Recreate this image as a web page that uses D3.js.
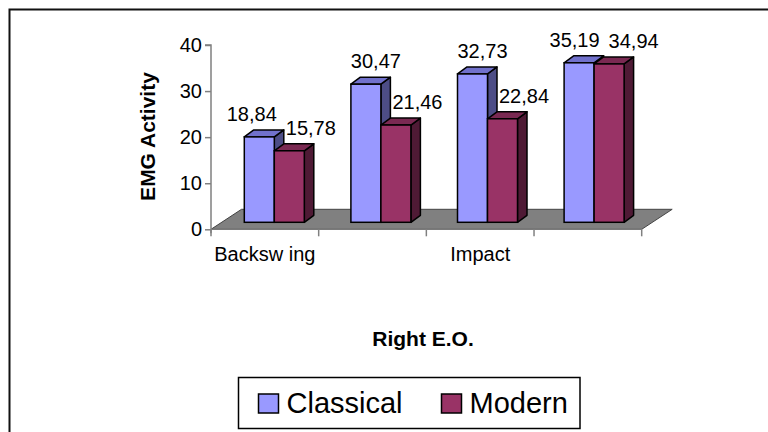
<!DOCTYPE html>
<html>
<head>
<meta charset="utf-8">
<script src="https://cdn.jsdelivr.net/npm/d3@7/dist/d3.min.js"></script>
<style>
  html, body { margin: 0; padding: 0; background: #fff; }
  svg { display: block; }
  text { font-family: "Liberation Sans", Arial, sans-serif; }
</style>
</head>
<body>
<svg id="chart" width="768" height="432"></svg>
<script>
// ---- data ----
const categories = ["Backsw ing", "", "Impact", ""];
const seriesNames = ["Classical", "Modern"];
const classical = [18.84, 30.47, 32.73, 35.19];
const modern = [15.78, 21.46, 22.84, 34.94];
const yTicks = [0, 10, 20, 30, 40];
const valueLabels = v => v.toFixed(2).replace(".", ",");

const series = [
  { name: seriesNames[0], values: classical, front: "#9999FF", top: "#7171CC", side: "#4D4D86" },
  { name: seriesNames[1], values: modern, front: "#993366", top: "#7A2952", side: "#4F1A35" }
];

const svg = d3.select("#chart");

// outer frame
svg.append("rect").attr("x", 9.5).attr("y", 9.5).attr("width", 820).attr("height", 500)
  .attr("fill", "#fff").attr("stroke", "#111").attr("stroke-width", 2);

// scales
const idx = categories.map((c, i) => i);
const x = d3.scaleBand().domain(idx).range([211, 641.7]).padding(0);
const y = d3.scaleLinear().domain([0, 40]).range([229.3, 45]);
// 3D projection offsets
const floorDx = 30.5, floorDy = -20;
const offDx = 10, offDy = -7;     // front face of bars sits inside the floor
const depDx = 9.5, depDy = -7;    // bar depth
const barBand = d3.scaleBand().domain(idx).range([211, 637.4]).padding(0);
const barY = d3.scaleLinear().domain([0, 40]).range([y(0) + offDy, y(40) + offDy + 3]);
const barW = 30;

// floor
const fx0 = x.range()[0], fx1 = x.range()[1], fy = y(0);
svg.append("path")
  .attr("d", `M${fx0},${fy}L${fx1},${fy}L${fx1 + floorDx},${fy + floorDy}L${fx0 + floorDx},${fy + floorDy}Z`)
  .attr("fill", "#808080").attr("stroke", "#444").attr("stroke-width", 1);

// y axis
const yAxis = d3.axisLeft(y).tickValues(yTicks).tickSize(6).tickPadding(3).tickFormat(d3.format("d"));
const gy = svg.append("g").attr("transform", "translate(211,0)").call(yAxis);
gy.select(".domain").attr("stroke", "#808080").attr("stroke-width", 1.5).attr("d", `M-6,${y(40)}H0V${y(0) + 4}`);
gy.selectAll(".tick line").attr("stroke", "#808080").attr("stroke-width", 1.5);
gy.selectAll(".tick text").attr("font-size", 20).attr("fill", "#000")
  .attr("font-family", "'Liberation Sans', Arial, sans-serif");

// x axis (category boundary ticks)
const gx = svg.append("g");
gx.append("line").attr("x1", fx0).attr("x2", fx1).attr("y1", fy).attr("y2", fy)
  .attr("stroke", "#808080").attr("stroke-width", 1);
gx.selectAll("line.tk").data(idx.concat([idx.length])).join("line").attr("class", "tk")
  .attr("x1", i => i < idx.length ? x(i) : fx1).attr("x2", i => i < idx.length ? x(i) : fx1)
  .attr("y1", fy).attr("y2", fy + 7)
  .attr("stroke", "#808080").attr("stroke-width", 1.5);
gx.selectAll("text").data(idx).join("text")
  .attr("x", i => x(i) + x.bandwidth() / 2).attr("y", 260.5)
  .attr("text-anchor", "middle").attr("font-size", 20).attr("fill", "#000")
  .text(i => categories[i]);

// bars
const bars = [];
idx.forEach(i => {
  series.forEach((s, si) => {
    const x0 = barBand(i) + (barBand.bandwidth() - barW * series.length) / 2 + offDx + si * barW;
    bars.push({ i, si, s, v: s.values[i], x0, x1: x0 + barW, yt: barY(s.values[i]), yb: barY(0) });
  });
});
const gb = svg.append("g");
bars.forEach(b => {
  const g = gb.append("g");
  g.append("path")
    .attr("d", `M${b.x1},${b.yt}L${b.x1 + depDx},${b.yt + depDy}L${b.x1 + depDx},${b.yb + depDy}L${b.x1},${b.yb}Z`)
    .attr("fill", b.s.side).attr("stroke", "#000").attr("stroke-width", 1.5).attr("stroke-linejoin", "round");
  g.append("path")
    .attr("d", `M${b.x0},${b.yt}L${b.x0 + depDx},${b.yt + depDy}L${b.x1 + depDx},${b.yt + depDy}L${b.x1},${b.yt}Z`)
    .attr("fill", b.s.top).attr("stroke", "#000").attr("stroke-width", 1.5).attr("stroke-linejoin", "round");
  g.append("rect").attr("x", b.x0).attr("y", b.yt).attr("width", barW).attr("height", b.yb - b.yt)
    .attr("fill", b.s.front).attr("stroke", "#000").attr("stroke-width", 1.5);
});

// data labels with simple collision avoidance
const gl = svg.append("g");
const labels = bars.map(b => {
  const t = gl.append("text").attr("text-anchor", "middle").attr("font-size", 20).attr("fill", "#000")
    .text(valueLabels(b.v));
  const w = t.node().getComputedTextLength();
  return { b, t, w, cx: (b.x0 + b.x1) / 2 + 10, base: b.yt + depDy - 9, pushed: false };
});
idx.forEach(i => {
  const [lc, lm] = labels.filter(l => l.b.i === i);
  const bc = lc.b;
  // modern label must not cover the classical bar
  const barRight = bc.x1 + depDx;
  if (lm.base > bc.yt + depDy && lm.cx - lm.w / 2 < barRight) {
    lm.cx = barRight + 2 + lm.w / 2;
    lm.pushed = true;
  }
  // labels of the same category must not overlap
  if (Math.abs(lm.base - lc.base) < 20) {
    const need = (lc.w + lm.w) / 2 + 9;
    const have = lm.cx - lc.cx;
    if (have < need) {
      if (lm.pushed) lc.cx -= need - have;
      else { lc.cx -= (need - have) / 2; lm.cx += (need - have) / 2; }
    }
  }
});
labels.forEach(l => l.t.attr("x", l.cx).attr("y", l.base));

// axis titles
svg.append("text").attr("transform", `translate(155,136.5) rotate(-90)`)
  .attr("text-anchor", "middle").attr("font-size", 21).attr("font-weight", "bold")
  .text("EMG Activity");
svg.append("text").attr("x", 423).attr("y", 346)
  .attr("text-anchor", "middle").attr("font-size", 21).attr("font-weight", "bold")
  .text("Right E.O.");

// legend
const lg = svg.append("g");
lg.append("rect").attr("x", 238.5).attr("y", 377.5).attr("width", 341.5).attr("height", 51)
  .attr("fill", "#fff").attr("stroke", "#000").attr("stroke-width", 1.5);
const legendX = [258.5, 441.5];
series.forEach((s, si) => {
  lg.append("rect").attr("x", legendX[si]).attr("y", 394).attr("width", 20).attr("height", 19)
    .attr("fill", s.front).attr("stroke", "#000").attr("stroke-width", 1.5);
  lg.append("text").attr("x", legendX[si] + 28).attr("y", 412.5)
    .attr("font-size", 29).attr("fill", "#000").text(s.name);
});
</script>
</body>
</html>
